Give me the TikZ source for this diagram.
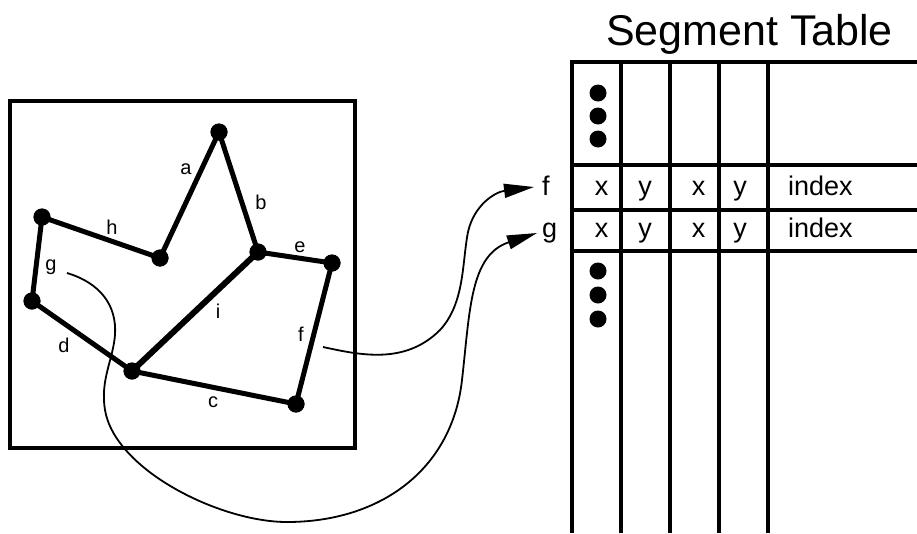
\documentclass[tikz,border=0pt]{standalone}
\usepackage{fontspec}
\setmainfont{Liberation Sans}
\usetikzlibrary{arrows.meta}
\begin{document}
\begin{tikzpicture}[x=1pt,y=-1pt,
  vdot/.style={circle,fill=black,inner sep=0pt,minimum size=17pt},
  tdot/.style={circle,fill=black,inner sep=0pt,minimum size=17pt},
  edge/.style={line width=5pt},
  frame/.style={line width=4pt},
  tline/.style={line width=4pt},
  lab/.style={font=\fontsize{20}{24}\selectfont,anchor=base,inner sep=0pt},
  cell/.style={font=\fontsize{27}{32}\selectfont,anchor=base,inner sep=0pt},
  link/.style={line width=1.8pt,-{Triangle[length=30pt,width=14pt]}}]
\useasboundingbox (0,0) rectangle (917,533);
% frame
\draw[frame] (9.5,100.5) rectangle (355,448);
% vertices
\node[vdot] (A) at (219,132) {};
\node[vdot] (B) at (258,252) {};
\node[vdot] (C) at (160,258) {};
\node[vdot] (H) at (42,217) {};
\node[vdot] (D) at (32,301) {};
\node[vdot] (E) at (132,371) {};
\node[vdot] (F) at (296,404) {};
\node[vdot] (G) at (332,263) {};
% edges
\draw[edge] (C.center) -- (A.center);
\draw[edge] (A.center) -- (B.center);
\draw[edge] (H.center) -- (C.center);
\draw[line width=6pt] (B.center) -- (E.center);
\draw[edge] (B.center) -- (G.center);
\draw[edge] (G.center) -- (F.center);
\draw[edge] (E.center) -- (F.center);
\draw[edge] (D.center) -- (E.center);
\draw[edge] (H.center) -- (D.center);
% redraw dots on top
\foreach \v in {A,B,C,H,D,E,F,G} \fill (\v) circle (8.5pt);
% edge labels
\node[lab] (la) at (186,174) {a};
\node[lab] (lb) at (261,209) {b};
\node[lab] (lh) at (112,234) {h};
\node[lab] (le) at (300,252) {e};
\node[lab] (lg) at (51,270) {g};
\node[lab] (li) at (218,318) {i};
\node[lab] (lf) at (301,341) {f};
\node[lab] (ld) at (64,352) {d};
\node[lab] (lc) at (213,407) {c};
% table title
\node[font=\fontsize{43}{50}\selectfont,anchor=base,inner sep=0pt] (title) at (749.5,45) {Segment Table};
% table lines
\foreach \yy in {62,165,209.5,250.5} \draw[tline] (572,\yy) -- (917,\yy);
\foreach \xx in {572,621,669.5,719,768} \draw[tline] (\xx,60) -- (\xx,533);
% dots in table
\foreach \yy in {93,116,139,271,295,319} \node[tdot] at (598,\yy) {};
% rows
\node[cell] (fx1) at (601.5,195) {x};
\node[cell] (fy1) at (645,195) {y};
\node[cell] (fx2) at (698.5,195) {x};
\node[cell] (fy2) at (740,195) {y};
\node[cell,anchor=base west] (fi) at (788,195) {index};
\node[cell] (gx1) at (601.5,237) {x};
\node[cell] (gy1) at (645,237) {y};
\node[cell] (gx2) at (698.5,237) {x};
\node[cell] (gy2) at (740,237) {y};
\node[cell,anchor=base west] (gi) at (788,237) {index};
\node[cell,anchor=base west] (rf) at (542,195) {f};
\node[cell,anchor=base west] (rg) at (542,237) {g};
% links
\coordinate (fs) at (323,347);
\coordinate (fe) at (534,187);
\coordinate (gs) at (67,273);
\coordinate (ge) at (537,233);
\draw[link] (fs) .. controls (360,355) and (405,365) .. (440,330)
  .. controls (465,303) and (462,262) .. (468,232)
  .. controls (474,205) and (495,192) .. (fe);
\draw[link] (gs) .. controls (100,283) and (117,305) .. (115,335)
  .. controls (113,360) and (100,380) .. (105,410)
  .. controls (115,470) and (220,522) .. (287,522)
  .. controls (380,522) and (452,470) .. (462,380)
  .. controls (470,310) and (470,255) .. (ge);
\end{tikzpicture}
\end{document}
